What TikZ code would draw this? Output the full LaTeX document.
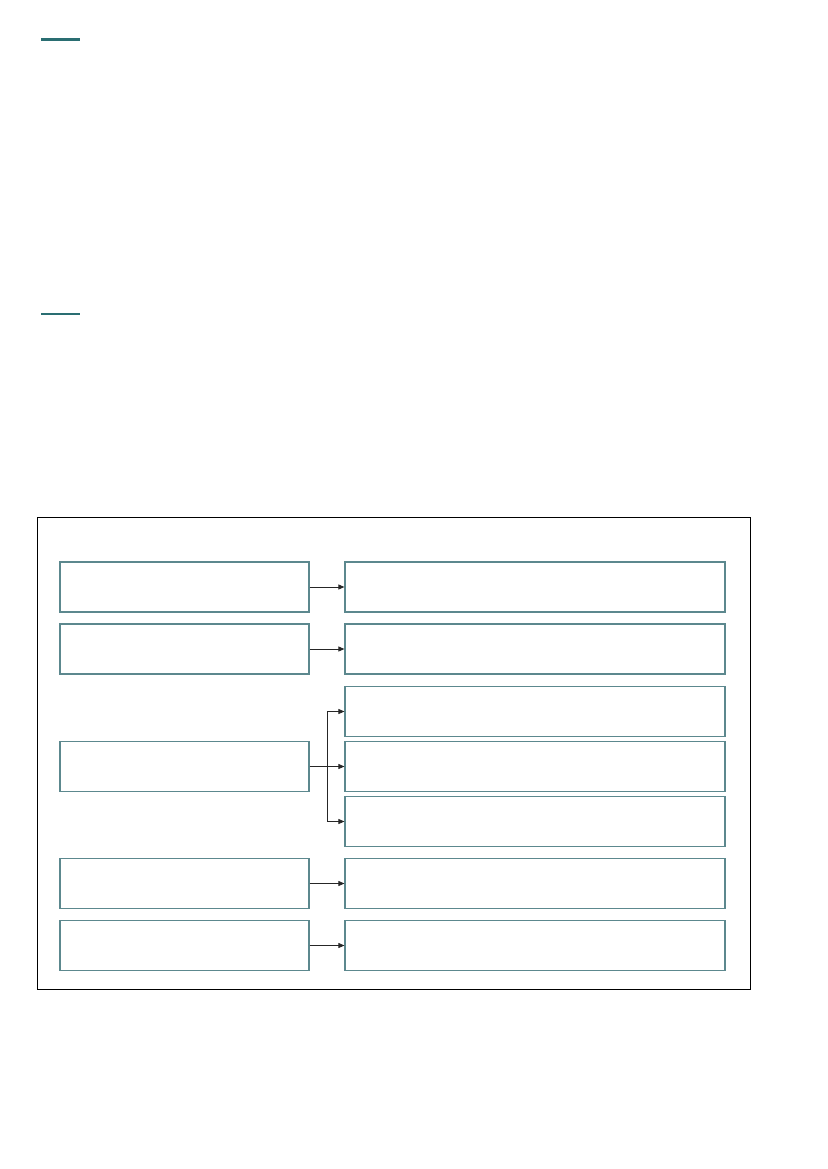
\documentclass[tikz,border=0pt]{standalone}
\usetikzlibrary{arrows.meta}
\definecolor{teal1}{RGB}{42,110,114}
\definecolor{boxc}{RGB}{92,136,142}
\begin{document}
\begin{tikzpicture}[x=1pt,y=-1pt,
  bx/.style={draw=boxc,line width=1.2pt,minimum height=50pt,inner sep=0pt,fill=white},
  lb/.style={bx,minimum width=249pt},
  rb/.style={bx,minimum width=380pt},
  conn/.style={draw=black!85,line width=0.7pt,-{Triangle[length=6pt,width=5pt]}}]
\useasboundingbox (0,0) rectangle (827,1169);
\fill[white] (0,0) rectangle (827,1169);
\coordinate (h1a) at (41,40); \coordinate (h1b) at (80,40);
\draw[teal1,line width=3pt] (h1a) -- (h1b);
\coordinate (h2a) at (41,314); \coordinate (h2b) at (80,314);
\draw[teal1,line width=2pt] (h2a) -- (h2b);
\node[draw=black,line width=0.8pt,minimum width=713pt,minimum height=472pt,inner sep=0pt] (frame) at (393.5,753) {};
% left boxes
\node[lb] (l1) at (184.5,587) {};
\node[lb] (l2) at (184.5,649) {};
\node[lb] (l3) at (184.5,766.5) {};
\node[lb] (l4) at (184.5,883.5) {};
\node[lb] (l5) at (184.5,945.5) {};
% right boxes
\node[rb] (r1) at (535,587) {};
\node[rb] (r2) at (535,649) {};
\node[rb] (r3a) at (535,711.5) {};
\node[rb] (r3b) at (535,766.5) {};
\node[rb] (r3c) at (535,821.5) {};
\node[rb] (r4) at (535,883.5) {};
\node[rb] (r5) at (535,945.5) {};
\draw[conn] (l1) -- (r1);
\draw[conn] (l2) -- (r2);
\draw[conn] (l4) -- (r4);
\draw[conn] (l5) -- (r5);
\coordinate (j) at (327,766.5);
\draw[draw=black!85,line width=0.7pt] (l3.east) -- (j);
\draw[conn] (j) |- (r3a.west);
\draw[conn] (j) -- (r3b.west);
\draw[conn] (j) |- (r3c.west);
\end{tikzpicture}
\end{document}
